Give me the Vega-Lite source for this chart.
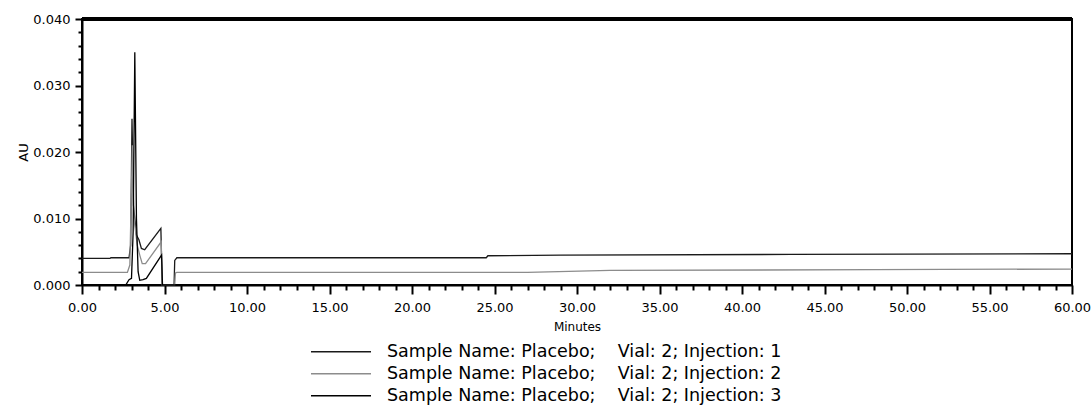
{
  "$schema": "https://vega.github.io/schema/vega-lite/v6.json",
  "autosize": {"type": "none"},
  "padding": {"left": 82, "top": 19, "right": 20, "bottom": 120},
  "width": 990,
  "height": 266,
  "background": "white",
  "config": {
    "view": {"stroke": "black", "strokeWidth": 2},
    "font": "DejaVu Sans",
    "axis": {"labelFont": "DejaVu Sans", "titleFont": "DejaVu Sans", "labelColor": "black", "titleColor": "black", "tickColor": "black", "domainColor": "black", "grid": false, "titleFontWeight": "normal"}
  },
  "data": {
    "values": [
      {"series": "Sample Name: Placebo;\u00a0\u00a0\u00a0\u00a0Vial: 2; Injection: 1", "t": 0, "au": 0.0040},
      {"series": "Sample Name: Placebo;\u00a0\u00a0\u00a0\u00a0Vial: 2; Injection: 1", "t": 1.7, "au": 0.0040},
      {"series": "Sample Name: Placebo;\u00a0\u00a0\u00a0\u00a0Vial: 2; Injection: 1", "t": 1.75, "au": 0.0041},
      {"series": "Sample Name: Placebo;\u00a0\u00a0\u00a0\u00a0Vial: 2; Injection: 1", "t": 2.85, "au": 0.0041},
      {"series": "Sample Name: Placebo;\u00a0\u00a0\u00a0\u00a0Vial: 2; Injection: 1", "t": 2.95, "au": 0.006},
      {"series": "Sample Name: Placebo;\u00a0\u00a0\u00a0\u00a0Vial: 2; Injection: 1", "t": 3.03, "au": 0.025},
      {"series": "Sample Name: Placebo;\u00a0\u00a0\u00a0\u00a0Vial: 2; Injection: 1", "t": 3.12, "au": 0.012},
      {"series": "Sample Name: Placebo;\u00a0\u00a0\u00a0\u00a0Vial: 2; Injection: 1", "t": 3.3, "au": 0.0075},
      {"series": "Sample Name: Placebo;\u00a0\u00a0\u00a0\u00a0Vial: 2; Injection: 1", "t": 3.45, "au": 0.0068},
      {"series": "Sample Name: Placebo;\u00a0\u00a0\u00a0\u00a0Vial: 2; Injection: 1", "t": 3.6, "au": 0.0055},
      {"series": "Sample Name: Placebo;\u00a0\u00a0\u00a0\u00a0Vial: 2; Injection: 1", "t": 3.8, "au": 0.0053},
      {"series": "Sample Name: Placebo;\u00a0\u00a0\u00a0\u00a0Vial: 2; Injection: 1", "t": 4.78, "au": 0.0085},
      {"series": "Sample Name: Placebo;\u00a0\u00a0\u00a0\u00a0Vial: 2; Injection: 1", "t": 4.86, "au": 0.0},
      {"series": "Sample Name: Placebo;\u00a0\u00a0\u00a0\u00a0Vial: 2; Injection: 1", "t": 5.58, "au": 0.0},
      {"series": "Sample Name: Placebo;\u00a0\u00a0\u00a0\u00a0Vial: 2; Injection: 1", "t": 5.62, "au": 0.0037},
      {"series": "Sample Name: Placebo;\u00a0\u00a0\u00a0\u00a0Vial: 2; Injection: 1", "t": 5.75, "au": 0.0041},
      {"series": "Sample Name: Placebo;\u00a0\u00a0\u00a0\u00a0Vial: 2; Injection: 1", "t": 24.5, "au": 0.0041},
      {"series": "Sample Name: Placebo;\u00a0\u00a0\u00a0\u00a0Vial: 2; Injection: 1", "t": 24.6, "au": 0.0044},
      {"series": "Sample Name: Placebo;\u00a0\u00a0\u00a0\u00a0Vial: 2; Injection: 1", "t": 29, "au": 0.0045},
      {"series": "Sample Name: Placebo;\u00a0\u00a0\u00a0\u00a0Vial: 2; Injection: 1", "t": 43, "au": 0.0046},
      {"series": "Sample Name: Placebo;\u00a0\u00a0\u00a0\u00a0Vial: 2; Injection: 1", "t": 60, "au": 0.0047},
      {"series": "Sample Name: Placebo;\u00a0\u00a0\u00a0\u00a0Vial: 2; Injection: 2", "t": 0, "au": 0.0019},
      {"series": "Sample Name: Placebo;\u00a0\u00a0\u00a0\u00a0Vial: 2; Injection: 2", "t": 2.75, "au": 0.0019},
      {"series": "Sample Name: Placebo;\u00a0\u00a0\u00a0\u00a0Vial: 2; Injection: 2", "t": 2.9, "au": 0.003},
      {"series": "Sample Name: Placebo;\u00a0\u00a0\u00a0\u00a0Vial: 2; Injection: 2", "t": 3.05, "au": 0.021},
      {"series": "Sample Name: Placebo;\u00a0\u00a0\u00a0\u00a0Vial: 2; Injection: 2", "t": 3.15, "au": 0.010},
      {"series": "Sample Name: Placebo;\u00a0\u00a0\u00a0\u00a0Vial: 2; Injection: 2", "t": 3.35, "au": 0.006},
      {"series": "Sample Name: Placebo;\u00a0\u00a0\u00a0\u00a0Vial: 2; Injection: 2", "t": 3.5, "au": 0.0045},
      {"series": "Sample Name: Placebo;\u00a0\u00a0\u00a0\u00a0Vial: 2; Injection: 2", "t": 3.65, "au": 0.0032},
      {"series": "Sample Name: Placebo;\u00a0\u00a0\u00a0\u00a0Vial: 2; Injection: 2", "t": 3.85, "au": 0.0032},
      {"series": "Sample Name: Placebo;\u00a0\u00a0\u00a0\u00a0Vial: 2; Injection: 2", "t": 4.8, "au": 0.0065},
      {"series": "Sample Name: Placebo;\u00a0\u00a0\u00a0\u00a0Vial: 2; Injection: 2", "t": 4.87, "au": 0.0},
      {"series": "Sample Name: Placebo;\u00a0\u00a0\u00a0\u00a0Vial: 2; Injection: 2", "t": 5.62, "au": 0.0},
      {"series": "Sample Name: Placebo;\u00a0\u00a0\u00a0\u00a0Vial: 2; Injection: 2", "t": 5.66, "au": 0.0018},
      {"series": "Sample Name: Placebo;\u00a0\u00a0\u00a0\u00a0Vial: 2; Injection: 2", "t": 5.75, "au": 0.0019},
      {"series": "Sample Name: Placebo;\u00a0\u00a0\u00a0\u00a0Vial: 2; Injection: 2", "t": 27, "au": 0.0019},
      {"series": "Sample Name: Placebo;\u00a0\u00a0\u00a0\u00a0Vial: 2; Injection: 2", "t": 32, "au": 0.0022},
      {"series": "Sample Name: Placebo;\u00a0\u00a0\u00a0\u00a0Vial: 2; Injection: 2", "t": 48, "au": 0.0023},
      {"series": "Sample Name: Placebo;\u00a0\u00a0\u00a0\u00a0Vial: 2; Injection: 2", "t": 60, "au": 0.0024},
      {"series": "Sample Name: Placebo;\u00a0\u00a0\u00a0\u00a0Vial: 2; Injection: 3", "t": 0, "au": 0.0},
      {"series": "Sample Name: Placebo;\u00a0\u00a0\u00a0\u00a0Vial: 2; Injection: 3", "t": 2.65, "au": 0.0},
      {"series": "Sample Name: Placebo;\u00a0\u00a0\u00a0\u00a0Vial: 2; Injection: 3", "t": 2.85, "au": 0.0008},
      {"series": "Sample Name: Placebo;\u00a0\u00a0\u00a0\u00a0Vial: 2; Injection: 3", "t": 3.0, "au": 0.001},
      {"series": "Sample Name: Placebo;\u00a0\u00a0\u00a0\u00a0Vial: 2; Injection: 3", "t": 3.1, "au": 0.008},
      {"series": "Sample Name: Placebo;\u00a0\u00a0\u00a0\u00a0Vial: 2; Injection: 3", "t": 3.2, "au": 0.035},
      {"series": "Sample Name: Placebo;\u00a0\u00a0\u00a0\u00a0Vial: 2; Injection: 3", "t": 3.3, "au": 0.010},
      {"series": "Sample Name: Placebo;\u00a0\u00a0\u00a0\u00a0Vial: 2; Injection: 3", "t": 3.4, "au": 0.002},
      {"series": "Sample Name: Placebo;\u00a0\u00a0\u00a0\u00a0Vial: 2; Injection: 3", "t": 3.5, "au": 0.0007},
      {"series": "Sample Name: Placebo;\u00a0\u00a0\u00a0\u00a0Vial: 2; Injection: 3", "t": 3.7, "au": 0.0008},
      {"series": "Sample Name: Placebo;\u00a0\u00a0\u00a0\u00a0Vial: 2; Injection: 3", "t": 3.9, "au": 0.001},
      {"series": "Sample Name: Placebo;\u00a0\u00a0\u00a0\u00a0Vial: 2; Injection: 3", "t": 4.82, "au": 0.0045},
      {"series": "Sample Name: Placebo;\u00a0\u00a0\u00a0\u00a0Vial: 2; Injection: 3", "t": 4.88, "au": 0.0},
      {"series": "Sample Name: Placebo;\u00a0\u00a0\u00a0\u00a0Vial: 2; Injection: 3", "t": 60, "au": 0.0}
    ]
  },
  "layer": [
    {
      "mark": {"type": "line", "interpolate": "linear"},
      "encoding": {
        "x": {"field": "t", "type": "quantitative", "scale": {"domain": [0, 60], "nice": false},
          "axis": {"orient": "bottom", "values": [0,1,2,3,4,5,6,7,8,9,10,11,12,13,14,15,16,17,18,19,20,21,22,23,24,25,26,27,28,29,30,31,32,33,34,35,36,37,38,39,40,41,42,43,44,45,46,47,48,49,50,51,52,53,54,55,56,57,58,59,60],
            "labelExpr": "datum.value % 5 === 0 ? format(datum.value, '.2f') : ''",
            "tickSize": {"condition": {"test": "datum.value % 5 === 0", "value": 9}, "value": 5},
            "tickWidth": 2, "domainWidth": 2, "labelFontSize": 13, "labelPadding": 7, "labelFlush": false, "labelOverlap": false,
            "title": "Minutes", "titleFontSize": 12, "titleBaseline": "alphabetic", "titleY": 45}},
        "y": {"field": "au", "type": "quantitative", "scale": {"domain": [0, 0.04], "nice": false},
          "axis": {"orient": "left", "values": [0,0.002,0.004,0.006,0.008,0.01,0.012,0.014,0.016,0.018,0.02,0.022,0.024,0.026,0.028,0.03,0.032,0.034,0.036,0.038,0.04],
            "labelExpr": "round(datum.value * 1000) % 10 === 0 ? format(datum.value, '.3f') : ''",
            "tickSize": {"condition": {"test": "round(datum.value * 1000) % 10 === 0", "value": 7}, "value": 4},
            "tickWidth": 2, "domainWidth": 2, "labelFontSize": 13, "labelPadding": 5, "labelFlush": false, "labelOverlap": false,
            "title": "AU", "titleFontSize": 13, "titleAngle": -90, "titleX": -59, "titleY": 133, "titleAlign": "center", "titleBaseline": "middle"}},
        "color": {"field": "series", "type": "nominal",
          "scale": {"range": ["#1a1a1a", "#8c8c8c", "#000000"]},
          "legend": {"title": null, "orient": "none", "legendX": 228, "legendY": 322, "padding": 0, "symbolType": "stroke", "symbolSize": 3600, "clipHeight": 21.5, "rowPadding": 0, "labelOffset": 15, "labelFont": "DejaVu Sans", "labelFontSize": 17.5, "labelColor": "black", "labelLimit": 0}},
        "strokeWidth": {"field": "series", "type": "ordinal",
          "scale": {"range": [1.3, 1.3, 2.6]},
          "legend": {"title": null, "orient": "none", "legendX": 228, "legendY": 322, "padding": 0, "symbolType": "stroke", "symbolSize": 3600, "clipHeight": 21.5, "rowPadding": 0, "labelOffset": 15, "labelFont": "DejaVu Sans", "labelFontSize": 17.5, "labelColor": "black", "labelLimit": 0}}
      }
    },
    {
      "mark": {"type": "rule", "strokeWidth": 3, "color": "black"},
      "encoding": {"y": {"datum": 0.04, "axis": null}}
    }
  ],
  "resolve": {"axis": {"y": "independent"}}
}
